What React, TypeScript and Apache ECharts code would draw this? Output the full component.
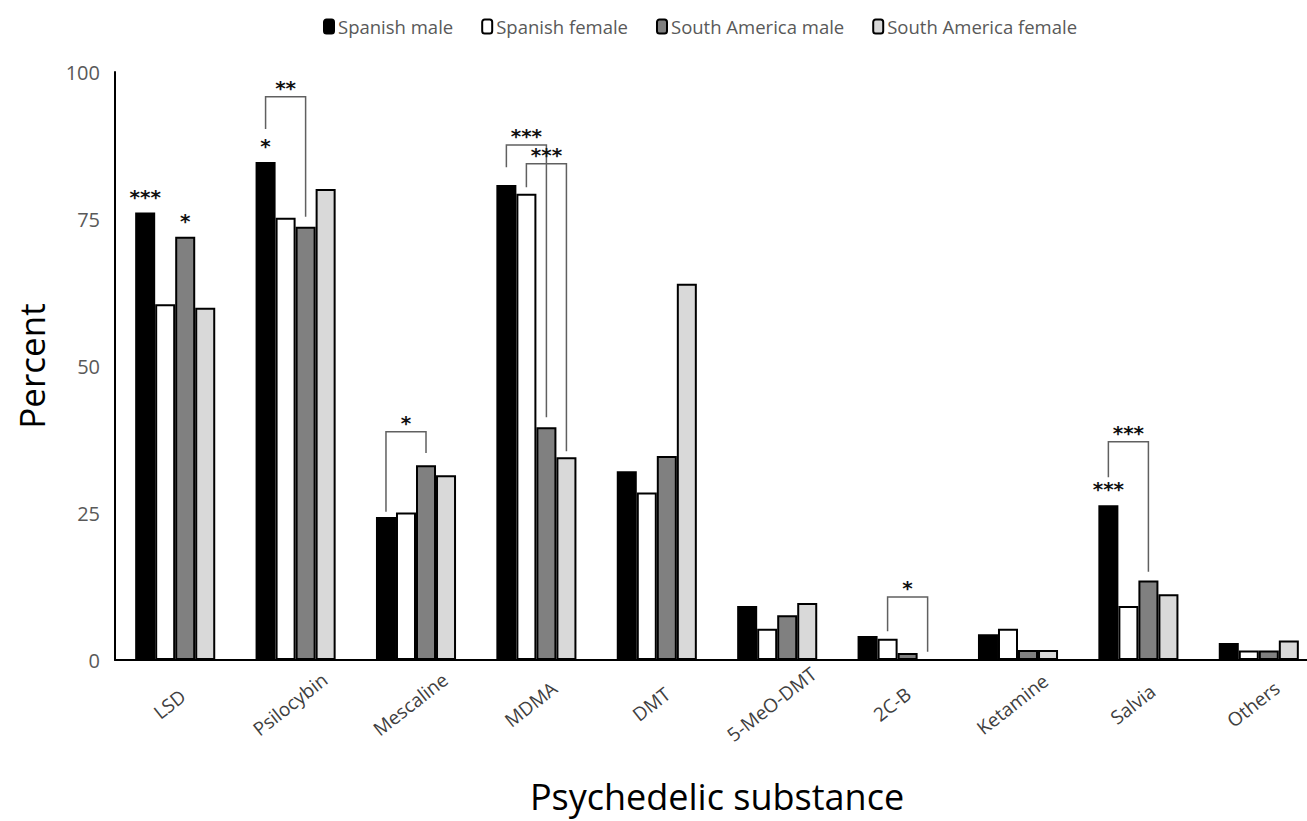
import React, { useEffect, useRef } from "react";
import * as echarts from "echarts";

const categories = ["LSD", "Psilocybin", "Mescaline", "MDMA", "DMT", "5-MeO-DMT", "2C-B", "Ketamine", "Salvia", "Others"];
const spanishMale = [76.1, 84.7, 24.3, 80.8, 32.1, 9.2, 4.1, 4.4, 26.3, 2.9];
const spanishFemale = [60.5, 75.2, 25.1, 79.3, 28.5, 5.3, 3.6, 5.3, 9.2, 1.6];
const southAmericaMale = [72.0, 73.7, 33.1, 39.6, 34.7, 7.6, 1.2, 1.7, 13.5, 1.6];
const southAmericaFemale = [59.9, 80.1, 31.4, 34.5, 64.0, 9.7, 0, 1.7, 11.2, 3.3];
const seriesNames = ["Spanish male", "Spanish female", "South America male", "South America female"];
const yTicks = [0, 25, 50, 75, 100];

// stars directly above bars: [seriesIndex, categoryIndex, label]
const barStars: [number, number, string][] = [
  [0, 0, "***"],
  [2, 0, "*"],
  [0, 1, "*"],
  [0, 8, "***"],
];

// brackets: [category, fromBar, toBar, leftLow, rightLow, top, label]
const brackets: [number, number, number, number, number, number, string][] = [
  [1, 0, 2, 90.3, 75.4, 95.8, "**"],
  [2, 0, 2, 25.2, 35.2, 38.8, "*"],
  [3, 0, 2, 83.8, 41.3, 87.6, "***"],
  [3, 1, 3, 80.4, 35.5, 84.4, "***"],
  [6, 1, 3, 4.9, 1.4, 10.7, "*"],
  [8, 0, 2, 31.1, 15.0, 37.1, "***"],
];

const fills = ["#000000", "#ffffff", "#808080", "#d9d9d9"];
const GAP = 0.335;

const starStyle = {
  fontSize: 20,
  fontWeight: "bold",
  fontFamily: "DejaVu Sans",
};

export default function App() {
  const ref = useRef<HTMLDivElement>(null);
  useEffect(() => {
    if (!ref.current) return;
    const chart = echarts.init(ref.current, null, { renderer: "svg" });
    const values = [spanishMale, spanishFemale, southAmericaMale, southAmericaFemale];
    const barSeries = values.map((vals, si) => ({
      name: seriesNames[si],
      type: "bar",
      barGap: "0%",
      barCategoryGap: GAP * 100 + "%",
      itemStyle: { color: fills[si], borderColor: "#000", borderWidth: 2 },
      data: vals.map((v, ci) => {
        const star = barStars.find((s) => s[0] === si && s[1] === ci);
        if (star) {
          return {
            value: v,
            label: {
              show: true,
              position: "top",
              distance: 6,
              formatter: star[2],
              color: "#111",
              ...starStyle,
            },
          };
        }
        return v;
      }),
    }));
    const bracketSeries = {
      type: "custom",
      name: "brackets",
      z: 5,
      clip: false,
      encode: { x: 0, y: [3, 4, 5] },
      data: brackets.map((b) => [b[0], b[1], b[2], b[3], b[4], b[5]]),
      renderItem: (params: any, api: any) => {
        const c = api.value(0);
        const from = api.value(1);
        const to = api.value(2);
        const xc = api.coord([c, 0])[0];
        const band = api.size([1, 0])[0];
        const bw = (band * (1 - GAP)) / 4;
        const xOf = (i: number) => xc - 2 * bw + (i + 0.5) * bw;
        const xL = xOf(from);
        const xR = xOf(to);
        const yL = api.coord([c, api.value(3)])[1];
        const yR = api.coord([c, api.value(4)])[1];
        const yT = api.coord([c, api.value(5)])[1];
        const label = brackets[params.dataIndex][6];
        return {
          type: "group",
          children: [
            {
              type: "polyline",
              shape: { points: [[xL, yL], [xL, yT], [xR, yT], [xR, yR]] },
              style: { stroke: "#606060", lineWidth: 1.5, fill: "none" },
            },
            {
              type: "text",
              x: (xL + xR) / 2,
              y: yT + 1,
              style: {
                text: label,
                align: "center",
                verticalAlign: "bottom",
                fill: "#111",
                ...starStyle,
              },
            },
          ],
        };
      },
    };
    chart.setOption({
      animation: false,
      backgroundColor: "#ffffff",
      legend: {
        data: seriesNames,
        top: 12,
        left: 318,
        itemWidth: 10,
        itemHeight: 14,
        itemGap: 28,
        textStyle: { fontFamily: "Open Sans", fontSize: 18.5, color: "#595959", padding: [0, 0, 0, -1] },
      },
      grid: { left: 115, right: 0, top: 72, bottom: 161 },
      xAxis: {
        type: "category",
        data: categories,
        axisLine: { lineStyle: { color: "#000", width: 2 } },
        axisTick: { show: false },
        axisLabel: {
          interval: 0,
          rotate: 38,
          align: "center",
          verticalAlign: "middle",
          fontFamily: "Open Sans",
          fontSize: 19,
          color: "#404040",
          margin: 40,
          padding: [0, 14, 0, 0],
        },
        name: "Psychedelic substance",
        nameLocation: "middle",
        nameGap: 118,
        nameTextStyle: { fontFamily: "Open Sans", fontSize: 36, color: "#000" },
      },
      yAxis: {
        type: "value",
        min: 0,
        max: 100,
        interval: 25,
        axisLine: { show: true, lineStyle: { color: "#000", width: 2 } },
        axisTick: { show: false },
        splitLine: { show: false },
        axisLabel: {
          fontFamily: "Open Sans",
          fontSize: 20,
          color: "#595959",
          margin: 15,
          formatter: (v: number) => (yTicks.includes(v) ? String(v) : ""),
        },
        name: "Percent",
        nameLocation: "middle",
        nameGap: 66,
        nameTextStyle: { fontFamily: "Open Sans", fontSize: 35, color: "#000" },
      },
      series: [...barSeries, bracketSeries],
    });
    return () => chart.dispose();
  }, []);
  return (
    <div style={{ position: "fixed", left: 0, top: 0, width: 1307, height: 821, overflow: "hidden", background: "#fff" }}>
      <div ref={ref} style={{ width: 1319, height: 821 }} />
    </div>
  );
}
